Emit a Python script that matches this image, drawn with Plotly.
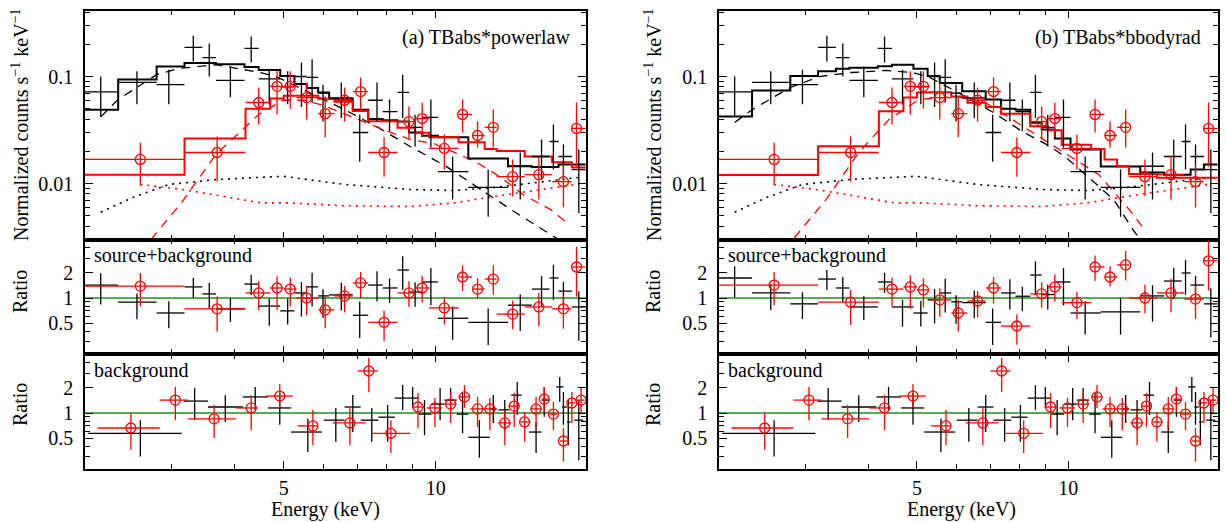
import numpy as np
import plotly.graph_objects as go

FONT = "Liberation Serif"

# ---------------- source spectrum, detector 1 (black crosses) ----------------
bk_lo = [2.00, 2.35, 2.80, 3.18, 3.45, 3.67, 4.18, 4.46, 4.92, 5.25, 5.55, 5.85, 6.15, 6.85, 7.35, 7.85, 8.40, 8.85, 9.40, 10.1, 11.6, 13.9, 15.5, 16.8, 17.5, 18.6]
bk_hi = [2.35, 2.80, 3.18, 3.45, 3.67, 4.18, 4.46, 4.92, 5.25, 5.55, 5.85, 6.15, 6.85, 7.35, 7.85, 8.40, 8.85, 9.40, 10.1, 11.6, 13.9, 15.5, 16.8, 17.5, 18.6, 19.8]
bk_E = [2.17, 2.56, 2.96, 3.31, 3.56, 3.92, 4.31, 4.68, 5.09, 5.42, 5.69, 5.98, 6.50, 7.07, 7.65, 8.10, 8.60, 9.10, 9.78, 10.8, 12.7, 14.7, 16.2, 17.1, 17.9, 19.2]
bk_rate = [0.072, 0.088, 0.084, 0.187, 0.150, 0.092, 0.183, 0.095, 0.080, 0.100, 0.098, 0.070, 0.063, 0.030, 0.060, 0.047, 0.071, 0.0335, 0.0415, 0.0129, 0.0092, 0.0145, 0.0179, 0.0247, 0.0179, 0.0135]
bk_rate_hi = [0.100, 0.112, 0.116, 0.240, 0.203, 0.124, 0.237, 0.116, 0.112, 0.135, 0.145, 0.084, 0.088, 0.044, 0.088, 0.061, 0.104, 0.044, 0.061, 0.0179, 0.0135, 0.0195, 0.0258, 0.0356, 0.0232, 0.0208]
bk_rate_lo = [0.042, 0.055, 0.055, 0.138, 0.100, 0.064, 0.135, 0.055, 0.055, 0.052, 0.057, 0.038, 0.041, 0.016, 0.038, 0.031, 0.041, 0.0222, 0.0217, 0.0071, 0.0049, 0.0071, 0.0109, 0.0135, 0.0109, 0.0053]

# ---------------- source spectrum, detector 2 (red circles) ----------------
rd_lo = [2.00, 3.18, 4.20, 4.70, 5.00, 5.30, 5.85, 6.30, 6.85, 7.35, 8.40, 9.10, 9.70, 11.1, 11.8, 12.5, 13.2, 15.0, 17.0, 18.6]
rd_hi = [3.18, 4.20, 4.70, 5.00, 5.30, 5.85, 6.30, 6.85, 7.35, 8.40, 9.10, 9.70, 11.1, 11.8, 12.5, 13.2, 15.0, 17.0, 18.6, 19.8]
rd_E = [2.60, 3.69, 4.46, 4.85, 5.15, 5.55, 6.04, 6.60, 7.10, 7.90, 8.85, 9.40, 10.4, 11.3, 12.1, 13.0, 14.2, 16.0, 17.9, 19.0]
rd_rate = [0.0168, 0.0195, 0.0572, 0.081, 0.081, 0.0636, 0.045, 0.060, 0.0724, 0.0195, 0.0379, 0.0405, 0.0213, 0.0442, 0.0281, 0.0335, 0.0116, 0.0121, 0.0104, 0.0327]
rd_rate_hi = [0.0241, 0.0275, 0.079, 0.112, 0.112, 0.088, 0.065, 0.079, 0.098, 0.027, 0.0525, 0.057, 0.0287, 0.061, 0.0379, 0.0492, 0.0168, 0.0179, 0.0151, 0.0572]
rd_rate_lo = [0.0096, 0.0104, 0.0356, 0.0442, 0.050, 0.0397, 0.027, 0.038, 0.047, 0.0116, 0.0258, 0.027, 0.0135, 0.030, 0.0217, 0.0217, 0.0076, 0.0071, 0.0060, 0.0144]

# ---------------- folded total models (per bin) ----------------
bk_mod_a = [0.049, 0.094, 0.124, 0.134, 0.134, 0.130, 0.123, 0.115, 0.101, 0.085, 0.078, 0.071, 0.062, 0.049, 0.040, 0.039, 0.038, 0.030, 0.028, 0.027, 0.0171, 0.0145, 0.0143, 0.0143, 0.0151, 0.0151]
rd_mod_a = [0.0121, 0.0263, 0.050, 0.0623, 0.066, 0.066, 0.062, 0.058, 0.0475, 0.0382, 0.0333, 0.0299, 0.0271, 0.0243, 0.0243, 0.021, 0.0201, 0.0179, 0.0158, 0.0141]
bk_mod_b = [0.0424, 0.074, 0.101, 0.112, 0.118, 0.121, 0.125, 0.129, 0.118, 0.101, 0.087, 0.087, 0.073, 0.061, 0.050, 0.049, 0.037, 0.032, 0.0263, 0.0208, 0.0144, 0.0127, 0.0121, 0.0121, 0.0135, 0.0151]
rd_mod_b = [0.0120, 0.0223, 0.0474, 0.0636, 0.071, 0.0714, 0.065, 0.057, 0.052, 0.045, 0.0343, 0.0315, 0.023, 0.021, 0.0168, 0.0145, 0.0123, 0.0113, 0.0113, 0.0113]

# ---------------- source model components (dashed) ----------------
bk_src_a_E = [2.17, 2.35, 2.80, 3.10, 3.67, 4.50, 4.87, 6.60, 7.68, 8.90, 10.5, 12.1, 14.1, 17.5]
bk_src_a_V = [0.042, 0.061, 0.104, 0.119, 0.129, 0.109, 0.098, 0.049, 0.0335, 0.0222, 0.0144, 0.0092, 0.0057, 0.0030]
rd_src_a_E = [2.73, 3.15, 3.67, 4.20, 4.46, 4.98, 5.50, 6.00, 7.86, 8.90, 9.90, 11.96, 13.4, 15.0, 16.9, 18.4]
rd_src_a_V = [0.0030, 0.0068, 0.0187, 0.0335, 0.0442, 0.060, 0.060, 0.0536, 0.032, 0.0258, 0.0237, 0.0161, 0.0116, 0.0077, 0.0057, 0.0041]
bk_src_b_E = [2.17, 2.35, 2.80, 3.20, 3.70, 4.35, 4.90, 5.30, 6.00, 7.10, 8.10, 9.20, 9.90, 10.8, 12.3, 13.5, 13.9]
bk_src_b_V = [0.0372, 0.049, 0.079, 0.100, 0.109, 0.114, 0.109, 0.098, 0.072, 0.046, 0.0306, 0.0222, 0.0175, 0.0121, 0.0071, 0.0036, 0.0030]
rd_src_b_E = [2.85, 3.30, 3.83, 4.40, 5.05, 6.00, 6.85, 7.90, 8.80, 9.80, 11.5, 12.3, 13.3, 14.3]
rd_src_b_V = [0.0031, 0.0071, 0.0195, 0.0397, 0.061, 0.065, 0.057, 0.0372, 0.027, 0.0195, 0.0121, 0.0084, 0.0055, 0.0035]

# ---------------- background model components (dotted) ----------------
bk_bkg_E = [2.17, 2.51, 2.96, 3.67, 4.98, 6.60, 8.90, 10.9, 13.1, 16.5, 19.2]
bk_bkg_V = [0.0054, 0.0074, 0.0098, 0.0109, 0.0117, 0.0098, 0.0088, 0.0086, 0.0092, 0.0104, 0.0114]
rd_bkg_E = [2.60, 3.15, 3.79, 4.50, 5.10, 6.60, 8.90, 10.9, 13.1, 15.2, 19.2]
rd_bkg_V = [0.0098, 0.0088, 0.0076, 0.0066, 0.0066, 0.0062, 0.0061, 0.0066, 0.0076, 0.0084, 0.0099]

# ---------------- source+background ratios ----------------
bk_ratio_a = [1.43, 0.89, 0.66, 1.36, 1.12, 0.74, 1.47, 0.80, 0.70, 1.15, 1.36, 1.06, 1.09, 0.62, 1.43, 1.32, 2.17, 1.18, 1.56, 0.57, 0.51, 0.82, 1.28, 1.74, 1.21, 0.78]
rd_ratio_a = [1.39, 0.74, 1.15, 1.32, 1.28, 1.00, 0.72, 1.06, 1.52, 0.51, 1.15, 1.32, 0.76, 1.79, 1.28, 1.69, 0.64, 0.78, 0.74, 2.36]
bk_ratio_b = [1.74, 1.15, 0.85, 1.69, 1.32, 0.78, 1.56, 0.78, 0.66, 0.95, 1.15, 0.90, 0.88, 0.51, 1.15, 1.05, 1.89, 1.10, 1.56, 0.66, 0.68, 1.06, 1.60, 2.00, 1.43, 0.85]
rd_ratio_b = [1.43, 0.89, 1.28, 1.36, 1.25, 0.95, 0.66, 0.92, 1.32, 0.46, 1.12, 1.36, 0.88, 2.36, 1.79, 2.50, 1.00, 1.15, 0.97, 2.80]

# ---------------- background-spectrum ratios ----------------
bgk_lo = [2.05, 3.17, 3.54, 4.15, 4.65, 5.17, 6.00, 6.60, 7.10, 7.70, 8.30, 8.75, 9.25, 9.80, 10.4, 11.0, 11.6, 12.8, 13.3, 14.1, 15.3, 16.2, 17.3, 17.8, 18.2, 18.8]
bgk_hi = [3.14, 3.54, 4.15, 4.65, 5.17, 5.95, 6.60, 7.10, 7.70, 8.30, 8.75, 9.25, 9.80, 10.4, 11.0, 11.6, 12.8, 13.2, 14.0, 14.8, 16.2, 16.8, 17.9, 18.2, 18.5, 19.6]
bgk_E = [2.60, 3.33, 3.83, 4.39, 4.91, 5.58, 6.34, 6.85, 7.47, 8.03, 8.60, 9.00, 9.50, 10.2, 10.7, 11.3, 12.2, 13.0, 13.7, 14.5, 15.8, 16.4, 17.6, 17.9, 18.3, 19.2]
bgk_R = [0.57, 1.39, 1.18, 1.56, 1.15, 0.59, 0.82, 1.18, 0.82, 0.89, 1.51, 1.51, 0.97, 1.28, 1.43, 0.97, 0.51, 1.12, 1.09, 1.64, 0.59, 1.43, 2.06, 1.18, 0.78, 0.82]
bgk_R_hi = [0.82, 2.00, 1.64, 2.06, 1.74, 0.85, 1.15, 1.65, 1.15, 1.25, 2.17, 2.06, 1.43, 2.00, 2.00, 1.74, 0.82, 1.65, 1.43, 2.36, 0.78, 2.06, 2.71, 1.79, 1.43, 1.43]
bgk_R_lo = [0.30, 0.82, 0.78, 1.09, 0.72, 0.34, 0.45, 0.59, 0.45, 0.45, 1.09, 1.15, 0.54, 0.82, 1.03, 0.57, 0.29, 0.76, 0.62, 0.95, 0.33, 0.90, 1.36, 0.72, 0.41, 0.27]

bgr_lo = [2.14, 2.84, 3.23, 4.02, 4.61, 5.33, 6.25, 7.00, 7.50, 9.00, 9.60, 10.4, 11.1, 11.7, 12.4, 13.3, 14.0, 14.7, 15.4, 16.2, 16.8, 17.6, 18.3, 19.0]
bgr_hi = [2.84, 3.23, 4.02, 4.44, 5.21, 5.84, 7.27, 7.68, 8.90, 9.50, 10.3, 11.0, 11.7, 12.4, 13.2, 14.1, 14.6, 15.4, 16.2, 16.7, 17.4, 18.3, 18.9, 19.7]
bgr_E = [2.49, 3.05, 3.64, 4.31, 4.91, 5.71, 6.76, 7.37, 8.15, 9.22, 9.96, 10.7, 11.4, 12.1, 12.8, 13.7, 14.3, 15.0, 15.8, 16.4, 17.1, 17.9, 18.6, 19.4]
bgr_R = [0.66, 1.43, 0.85, 1.15, 1.60, 0.70, 0.76, 3.20, 0.57, 1.18, 1.15, 1.28, 1.56, 1.12, 1.12, 0.76, 1.21, 0.78, 1.12, 1.47, 0.97, 0.46, 1.32, 1.43]
bgr_R_hi = [1.00, 2.06, 1.25, 1.64, 2.24, 1.09, 1.18, 4.60, 0.82, 1.74, 1.52, 1.79, 2.17, 1.56, 1.52, 1.09, 1.74, 1.03, 1.56, 2.06, 1.36, 0.66, 1.79, 2.06]
bgr_R_lo = [0.36, 0.82, 0.50, 0.62, 1.15, 0.41, 0.41, 1.79, 0.33, 0.66, 0.68, 0.76, 1.15, 0.68, 0.62, 0.41, 0.68, 0.45, 0.66, 1.03, 0.62, 0.26, 0.76, 1.00]

panel_titles = ["(a) TBabs*powerlaw", "(b) TBabs*bbodyrad"]

BLACK = "black"
RED = "#ff0000"
GREEN = "#1f8f1f"

fig = go.Figure()


def ax(i, base):
    return base if i == 1 else f"{base}{i}"


def add_points(E, lo, hi, val, vlo, vhi, color, circle, xa, ya):
    E = np.asarray(E, float); lo = np.asarray(lo, float); hi = np.asarray(hi, float)
    val = np.asarray(val, float); vlo = np.asarray(vlo, float); vhi = np.asarray(vhi, float)
    marker = dict(symbol="circle-open", size=10, color=color, line=dict(width=1.3, color=color)) if circle \
        else dict(size=1, color=color, opacity=0)
    fig.add_trace(go.Scatter(
        x=E, y=val, mode="markers", marker=marker,
        error_x=dict(type="data", symmetric=False, array=hi - E, arrayminus=E - lo,
                     width=0, thickness=1.3, color=color),
        error_y=dict(type="data", symmetric=False, array=vhi - val, arrayminus=val - vlo,
                     width=0, thickness=1.3, color=color),
        xaxis=xa, yaxis=ya, showlegend=False, hoverinfo="skip"))


def add_step(lo, hi, mod, color, xa, ya, width=2.0):
    x = list(lo) + [hi[-1]]
    y = list(mod) + [mod[-1]]
    fig.add_trace(go.Scatter(x=x, y=y, mode="lines", line=dict(color=color, width=width, shape="hv"),
                             xaxis=xa, yaxis=ya, showlegend=False, hoverinfo="skip"))


def add_curve(E, V, color, dash, width, xa, ya):
    fig.add_trace(go.Scatter(x=E, y=V, mode="lines", line=dict(color=color, width=width, dash=dash),
                             xaxis=xa, yaxis=ya, showlegend=False, hoverinfo="skip"))


models = [
    dict(bk_mod=bk_mod_a, rd_mod=rd_mod_a, bk_ratio=bk_ratio_a, rd_ratio=rd_ratio_a,
         bk_src=(bk_src_a_E, bk_src_a_V), rd_src=(rd_src_a_E, rd_src_a_V)),
    dict(bk_mod=bk_mod_b, rd_mod=rd_mod_b, bk_ratio=bk_ratio_b, rd_ratio=rd_ratio_b,
         bk_src=(bk_src_b_E, bk_src_b_V), rd_src=(rd_src_b_E, rd_src_b_V)),
]

W, H = 1226, 522
px = lambda v: v / W
py = lambda v: 1 - v / H

x_domains = [[px(85), px(586)], [px(719), px(1218)]]
y_top = [py(239.5), py(10.5)]
y_r1 = [py(354), py(239.5)]
y_r2 = [py(469), py(354)]

XR = [np.log10(2.02), np.log10(19.84)]
YR_TOP = [-2.523, -0.383]
YR_R1 = [-0.674, 0.704]
YR_R2 = [-0.674, 0.710]

layout_axes = {}
annotations = []
shapes = []

base_axis = dict(showline=True, linecolor="black", linewidth=1.5, mirror="allticks",
                 ticks="inside", tickcolor="black", tickwidth=1.2, showgrid=False, zeroline=False,
                 tickfont=dict(family=FONT, size=20, color="black"))

title_right = [572, 1203]
label_x = [20, 653]
text_left = [92, 726]
xlabel_x = [326, 961]

for p in range(2):
    m = models[p]
    i_top, i_r1, i_r2 = 3 * p + 1, 3 * p + 2, 3 * p + 3
    xt, yt = ax(i_top, "x"), ax(i_top, "y")
    x1, y1 = ax(i_r1, "x"), ax(i_r1, "y")
    x2, y2 = ax(i_r2, "x"), ax(i_r2, "y")

    # top panel: background dotted, source dashed, total model steps, data
    add_curve(bk_bkg_E, bk_bkg_V, BLACK, "2px,5px", 1.6, xt, yt)
    add_curve(rd_bkg_E, rd_bkg_V, RED, "2px,5px", 1.6, xt, yt)
    add_curve(m["bk_src"][0], m["bk_src"][1], BLACK, "9px,7px", 1.3, xt, yt)
    add_curve(m["rd_src"][0], m["rd_src"][1], RED, "9px,7px", 1.3, xt, yt)
    add_step(bk_lo, bk_hi, m["bk_mod"], BLACK, xt, yt)
    add_step(rd_lo, rd_hi, m["rd_mod"], RED, xt, yt)
    add_points(bk_E, bk_lo, bk_hi, bk_rate, bk_rate_lo, bk_rate_hi, BLACK, False, xt, yt)
    add_points(rd_E, rd_lo, rd_hi, rd_rate, rd_rate_lo, rd_rate_hi, RED, True, xt, yt)

    # source+background ratio panel (error bars keep the data's relative errors)
    bkR = np.asarray(m["bk_ratio"]); rdR = np.asarray(m["rd_ratio"])
    add_points(bk_E, bk_lo, bk_hi, bkR, bkR * np.asarray(bk_rate_lo) / np.asarray(bk_rate),
               bkR * np.asarray(bk_rate_hi) / np.asarray(bk_rate), BLACK, False, x1, y1)
    add_points(rd_E, rd_lo, rd_hi, rdR, rdR * np.asarray(rd_rate_lo) / np.asarray(rd_rate),
               rdR * np.asarray(rd_rate_hi) / np.asarray(rd_rate), RED, True, x1, y1)

    # background ratio panel
    add_points(bgk_E, bgk_lo, bgk_hi, bgk_R, bgk_R_lo, bgk_R_hi, BLACK, False, x2, y2)
    add_points(bgr_E, bgr_lo, bgr_hi, bgr_R, bgr_R_lo, bgr_R_hi, RED, True, x2, y2)

    for xa, ya in ((x1, y1), (x2, y2)):
        shapes.append(dict(type="line", xref=f"{xa} domain", x0=0, x1=1, yref=ya, y0=1, y1=1,
                           line=dict(color=GREEN, width=1.4), layer="below"))

    for i, dom, yr, kind in ((i_top, y_top, YR_TOP, "top"), (i_r1, y_r1, YR_R1, "r"), (i_r2, y_r2, YR_R2, "r")):
        xa_name = "xaxis" if i == 1 else f"xaxis{i}"
        ya_name = "yaxis" if i == 1 else f"yaxis{i}"
        xa = dict(base_axis, type="log", domain=x_domains[p], anchor=ax(i, "y"), range=XR,
                  tickmode="array", tickvals=[5, 10], ticktext=["5", "10"], ticklen=8,
                  showticklabels=(i == i_r2), ticklabelstandoff=0,
                  minor=dict(tickmode="array", tickvals=[3, 4, 6, 7, 8, 9], ticks="inside",
                             ticklen=5, tickwidth=1.1, tickcolor="black"))
        if kind == "top":
            ya = dict(base_axis, type="log", domain=dom, anchor=ax(i, "x"), range=yr,
                      tickmode="array", tickvals=[0.01, 0.1], ticktext=["0.01", "0.1"], ticklen=8,
                      ticklabelstandoff=6,
                      minor=dict(tickmode="array",
                                 tickvals=[0.004, 0.005, 0.006, 0.007, 0.008, 0.009,
                                           0.02, 0.03, 0.04, 0.05, 0.06, 0.07, 0.08, 0.09, 0.2, 0.3, 0.4],
                                 ticks="inside", ticklen=5, tickwidth=1.1, tickcolor="black"))
        else:
            ya = dict(base_axis, type="log", domain=dom, anchor=ax(i, "x"), range=yr,
                      tickmode="array", tickvals=[0.5, 1, 2], ticktext=["0.5", "1", "2"], ticklen=8,
                      ticklabelstandoff=6,
                      minor=dict(tickmode="array", tickvals=[0.3, 0.4, 0.6, 0.7, 0.8, 0.9, 3, 4, 5],
                                 ticks="inside", ticklen=5, tickwidth=1.1, tickcolor="black"))
        layout_axes[xa_name] = xa
        layout_axes[ya_name] = ya

    tfont = dict(family=FONT, size=20, color="black")
    annotations += [
        dict(text="Normalized counts s<sup>\u22121</sup> keV<sup>\u22121</sup>", textangle=-90,
             x=px(label_x[p]), y=py(125), xref="paper", yref="paper", showarrow=False, font=tfont,
             xanchor="center", yanchor="middle"),
        dict(text="Ratio", textangle=-90, x=px(label_x[p]), y=py(292), xref="paper", yref="paper",
             showarrow=False, font=tfont, xanchor="center", yanchor="middle"),
        dict(text="Ratio", textangle=-90, x=px(label_x[p]), y=py(405), xref="paper", yref="paper",
             showarrow=False, font=tfont, xanchor="center", yanchor="middle"),
        dict(text="source+background", x=px(text_left[p]), y=py(255), xref="paper", yref="paper",
             showarrow=False, font=tfont, xanchor="left", yanchor="middle"),
        dict(text="background", x=px(text_left[p]), y=py(370), xref="paper", yref="paper",
             showarrow=False, font=tfont, xanchor="left", yanchor="middle"),
        dict(text=panel_titles[p], x=px(title_right[p]), y=py(37), xref="paper", yref="paper",
             showarrow=False, font=tfont, xanchor="right", yanchor="middle"),
        dict(text="Energy (keV)", x=px(xlabel_x[p]), y=py(509), xref="paper", yref="paper",
             showarrow=False, font=tfont, xanchor="center", yanchor="middle"),
    ]

fig.update_layout(
    width=W, height=H, margin=dict(l=0, r=0, t=0, b=0),
    paper_bgcolor="white", plot_bgcolor="white",
    font=dict(family=FONT, size=20, color="black"),
    annotations=annotations, shapes=shapes, showlegend=False,
    **layout_axes,
)

fig.write_html("out.html")
